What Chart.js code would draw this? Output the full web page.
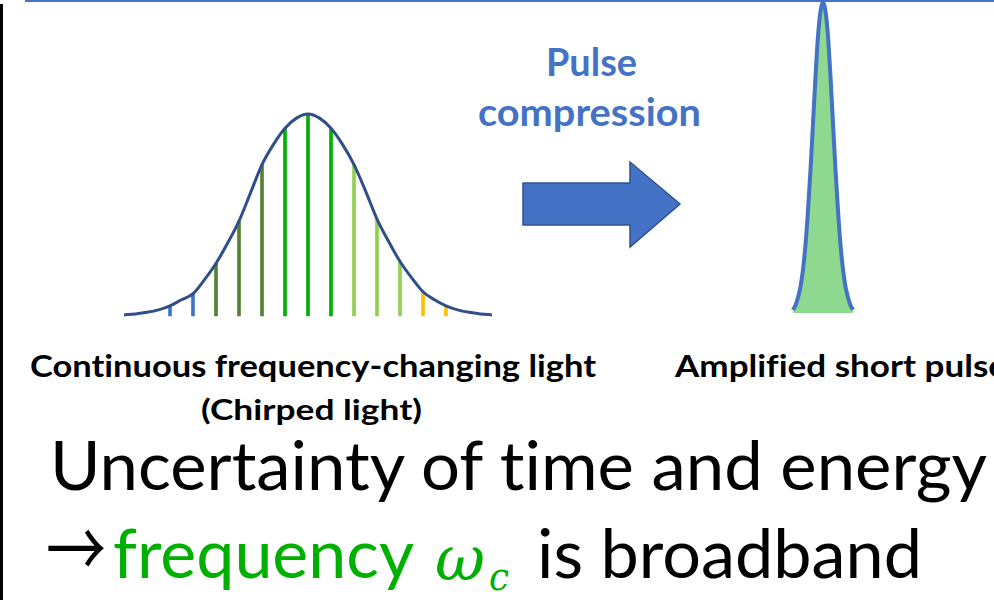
<!DOCTYPE html>
<html>
<head>
<meta charset="utf-8">
<script src="https://cdn.jsdelivr.net/npm/chart.js@4/dist/chart.umd.min.js"></script>
<style>
  html, body { margin: 0; padding: 0; background: #fff; overflow: hidden; }
  #page { position: relative; width: 994px; height: 600px; }
  #deco { position: absolute; left: 0; top: 0; }
  .box { position: absolute; }
  #chirpBox { left: 124px; top: 102px; width: 368px; height: 222px; }
  #pulseBox { left: 787px; top: 0px; width: 72px; height: 313px; }
  text { font-variant-ligatures: none; font-feature-settings: "liga" 0, "clig" 0; }
  text.b { font-family: Lato, "Open Sans", sans-serif; font-weight: 700; }
  text.r { font-family: Lato, "Open Sans", sans-serif; font-weight: 400; }
</style>
</head>
<body>
<div id="page">
  <svg id="deco" width="994" height="600">
    <!-- slide frame bits -->
    <rect x="25" y="0" width="969" height="2" fill="#4472c4"/>
    <rect x="0" y="4" width="3" height="596" fill="#000"/>

    <!-- compression arrow -->
    <polygon points="523,183 630,183 630,162 680,204 630,247 630,225 523,225"
             fill="#4472c4" stroke="#2f528f" stroke-width="1.5"/>

    <text class="b" x="546" y="76" font-size="39" fill="#4472c4" textLength="91" lengthAdjust="spacingAndGlyphs">Pulse</text>
    <text class="b" x="478" y="126" font-size="39" fill="#4472c4" textLength="223" lengthAdjust="spacingAndGlyphs">compression</text>

    <text class="b" x="30" y="377" font-size="30" fill="#000" textLength="566" lengthAdjust="spacingAndGlyphs">Continuous frequency-changing light</text>
    <text class="b" x="201" y="420" font-size="28" fill="#000" textLength="221" lengthAdjust="spacingAndGlyphs">(Chirped light)</text>
    <text class="b" x="675" y="377" font-size="30" fill="#000" textLength="332" lengthAdjust="spacingAndGlyphs">Amplified short pulse</text>

    <text class="r" x="50" y="490" font-size="67" fill="#000" textLength="937" lengthAdjust="spacingAndGlyphs">Uncertainty of time and energy</text>

    <text class="r" y="578" font-size="67"><tspan x="46" font-family="Noto Sans CJK JP" font-size="78" fill="#000" textLength="60" lengthAdjust="spacingAndGlyphs">→</tspan><tspan x="113" fill="#00b000" textLength="301" lengthAdjust="spacingAndGlyphs">frequency</tspan></text>
    <text x="435" y="580" font-family="DejaVu Serif" font-style="italic" font-size="62" fill="#00b000" textLength="50" lengthAdjust="spacingAndGlyphs">ω</text>
    <text x="489" y="590" font-family="DejaVu Serif" font-style="italic" font-size="40" fill="#00b000" textLength="20" lengthAdjust="spacingAndGlyphs">c</text>
    <text class="r" x="537" y="578" font-size="67" fill="#000" textLength="385" lengthAdjust="spacingAndGlyphs">is broadband</text>
  </svg>

  <div class="box" id="chirpBox"><canvas id="chirp" width="368" height="222"></canvas></div>
  <div class="box" id="pulseBox"><canvas id="pulse" width="72" height="313"></canvas></div>
</div>

<script>
// chirped spectrum envelope (frequency offset, relative intensity)
const envX = [-8, -7.5, -7, -6.5, -6, -5.5, -5, -4.5, -4, -3.5, -3, -2.5, -2, -1.5, -1, -0.5, 0,
              0.5, 1, 1.5, 2, 2.5, 3, 3.5, 4, 4.5, 5, 5.5, 6, 6.5, 7, 7.5, 8];
const envY = [0.005, 0.01, 0.018, 0.03, 0.05, 0.08, 0.11, 0.18, 0.26, 0.36, 0.47, 0.61, 0.75, 0.85, 0.93, 0.98, 1.0,
              0.98, 0.93, 0.85, 0.75, 0.62, 0.48, 0.37, 0.27, 0.19, 0.12, 0.08, 0.05, 0.03, 0.018, 0.01, 0.005];

// frequency components inside the envelope
const lineX = [-6, -5, -4, -3, -2, -1, 0, 1, 2, 3, 4, 5, 6];
const lineY = [0.05, 0.11, 0.26, 0.47, 0.75, 0.93, 1.0, 0.93, 0.75, 0.48, 0.27, 0.12, 0.05];
const lineColors = ["#4472c4", "#4472c4",
                    "#548235", "#548235", "#548235",
                    "#00b000", "#00b000", "#00b000",
                    "#92d050", "#92d050", "#92d050",
                    "#ffc000", "#ffc000"];

// compressed pulse (time, relative intensity)
const pulseX = [-3, -2.75, -2.5, -2.25, -2, -1.75, -1.5, -1.25, -1, -0.75, -0.5, -0.25, 0,
                0.25, 0.5, 0.75, 1, 1.25, 1.5, 1.75, 2, 2.25, 2.5, 2.75, 3];
const pulseY = [0.01, 0.025, 0.05, 0.085, 0.14, 0.22, 0.33, 0.46, 0.61, 0.76, 0.89, 0.97, 1.0,
                0.97, 0.89, 0.76, 0.61, 0.46, 0.33, 0.22, 0.14, 0.085, 0.05, 0.025, 0.01];

const pts = (xs, ys) => xs.map((x, i) => ({ x: x, y: ys[i] }));

const baseOpts = {
  responsive: false,
  animation: false,
  devicePixelRatio: 1,
  layout: { padding: 0 },
  plugins: { legend: { display: false }, tooltip: { enabled: false } },
  events: [],
};

new Chart(document.getElementById("chirp").getContext("2d"), {
  type: "line",
  data: {
    datasets: [
      {
        type: "line",
        data: pts(envX, envY),
        borderColor: "#2f4f86",
        borderWidth: 3,
        pointRadius: 0,
        cubicInterpolationMode: "monotone",
        fill: false,
        clip: false,
        order: 0,
      },
      {
        type: "bar",
        data: pts(lineX, lineY),
        backgroundColor: lineColors,
        barThickness: 3,
        order: 1,
      },
    ],
  },
  options: {
    ...baseOpts,
    scales: {
      // offset off so the bars don't squeeze the frequency axis
      x: { type: "linear", min: -8, max: 8, offset: false, display: false },
      y: { min: -0.04, max: 1.06, display: false },
    },
  },
});

new Chart(document.getElementById("pulse").getContext("2d"), {
  type: "line",
  data: {
    datasets: [
      {
        data: pts(pulseX, pulseY),
        borderColor: "#4472c4",
        borderWidth: 4,
        backgroundColor: "#8fd88f",
        fill: "origin",
        pointRadius: 0,
        cubicInterpolationMode: "monotone",
        clip: false,
      },
    ],
  },
  options: {
    ...baseOpts,
    scales: {
      x: { type: "linear", min: -3.6, max: 3.6, display: false },
      y: { min: 0, max: 1.0065, display: false },
    },
  },
});
</script>
</body>
</html>
